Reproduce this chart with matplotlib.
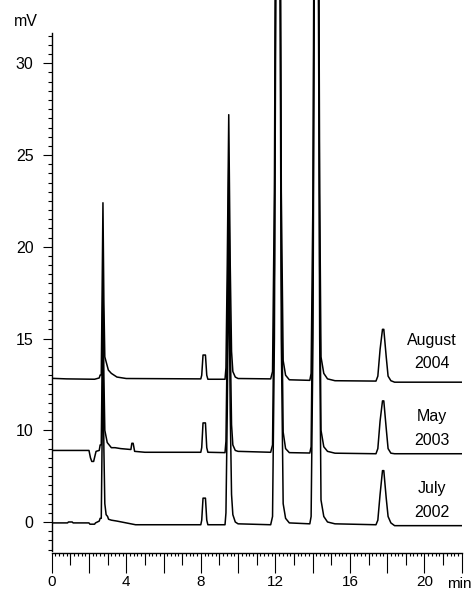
import matplotlib
matplotlib.use("Agg")
import matplotlib.pyplot as plt
from matplotlib.ticker import FixedLocator, FixedFormatter

plt.rcParams['font.family'] = ['Liberation Sans', 'DejaVu Sans']

# ---- data (time in min, signal in axis units; labelled ticks below) ----
july_t = [0.0, 0.85, 0.9, 1.1, 1.15, 2.0, 2.05, 2.3, 2.35, 2.55, 2.6, 2.66, 2.7, 2.75, 2.8, 2.85,
          2.92, 3.0, 3.05, 3.2, 3.5, 4.0, 4.5, 8.0, 8.05, 8.12, 8.25, 8.32, 8.38, 9.3, 9.35, 9.42,
          9.5, 9.58, 9.65, 9.72, 9.85, 10.0, 11.75, 11.85, 11.95, 12.15, 12.32, 12.42, 12.55, 12.75,
          13.85, 13.92, 14.02, 14.2, 14.38, 14.45, 14.6, 14.8, 15.2, 17.4, 17.5, 17.62, 17.75, 17.82,
          17.95, 18.05, 18.2, 18.4, 22.0]
july_v = [-0.05, -0.05, 0.0, 0.0, -0.05, -0.05, -0.12, -0.12, -0.05, 0.05, 0.2, 0.2, 4.0, 9.6, 4.0, 1.0,
          0.4, 0.3, 0.15, 0.1, 0.05, -0.05, -0.15, -0.15, 0.1, 1.3, 1.3, 0.1, -0.15, -0.15, 0.5, 6.0,
          14.9, 6.0, 1.5, 0.4, 0.0, -0.1, -0.15, 0.3, 10.0, 60.0, 10.0, 1.0, 0.2, -0.05,
          -0.1, 0.3, 10.0, 60.0, 10.0, 1.2, 0.3, 0.0, -0.1, -0.15, 0.1, 1.5, 2.8, 2.8,
          1.3, 0.3, -0.05, -0.2, -0.2]

may_t = [0.0, 2.0, 2.08, 2.15, 2.25, 2.32, 2.38, 2.55, 2.6, 2.66, 2.7, 2.75, 2.8, 2.85, 2.98, 3.2,
         3.4, 3.7, 4.25, 4.3, 4.37, 4.45, 5.0, 8.0, 8.05, 8.12, 8.25, 8.32, 8.38, 9.3, 9.35, 9.42,
         9.5, 9.58, 9.65, 9.72, 9.85, 10.0, 11.75, 11.85, 11.95, 12.15, 12.32, 12.42, 12.55, 12.75,
         13.85, 13.92, 14.02, 14.2, 14.38, 14.45, 14.6, 14.8, 15.2, 17.4, 17.5, 17.62, 17.75, 17.82,
         17.95, 18.05, 18.2, 18.4, 22.0]
may_v = [3.9, 3.9, 3.5, 3.3, 3.3, 3.6, 3.85, 3.9, 4.2, 4.2, 8.0, 13.5, 8.0, 5.0, 4.33, 4.05,
         4.05, 4.0, 3.95, 4.29, 4.29, 3.85, 3.8, 3.8, 4.05, 5.4, 5.4, 4.05, 3.8, 3.78, 4.4, 10.0,
         19.3, 10.0, 5.3, 4.2, 3.9, 3.85, 3.8, 4.2, 14.0, 64.0, 14.0, 4.9, 4.0, 3.78,
         3.76, 4.1, 14.0, 64.0, 14.0, 5.0, 4.1, 3.85, 3.75, 3.72, 4.0, 5.5, 6.6, 6.6,
         5.1, 4.0, 3.75, 3.72, 3.72]

aug_t = [0.0, 0.8, 2.3, 2.55, 2.6, 2.66, 2.7, 2.75, 2.8, 2.85, 3.04, 3.2, 3.5, 4.0, 8.0, 8.05,
         8.12, 8.25, 8.32, 8.38, 9.3, 9.35, 9.42, 9.5, 9.58, 9.65, 9.72, 9.85, 10.0, 11.75, 11.85,
         11.95, 12.15, 12.32, 12.42, 12.55, 12.75, 13.85, 13.92, 14.02, 14.2, 14.38, 14.45, 14.6,
         14.8, 15.2, 17.4, 17.5, 17.62, 17.75, 17.82, 17.95, 18.05, 18.2, 18.4, 22.0]
aug_v = [7.83, 7.8, 7.78, 7.85, 8.01, 8.01, 12.0, 17.4, 12.0, 9.0, 8.28, 8.1, 7.9, 7.82, 7.8, 8.0,
         9.1, 9.1, 8.0, 7.78, 7.78, 8.4, 14.0, 22.2, 14.0, 9.3, 8.2, 7.9, 7.82, 7.8, 8.2,
         18.0, 68.0, 18.0, 8.8, 8.0, 7.75, 7.72, 8.1, 18.0, 68.0, 18.0, 9.0, 8.1, 7.8, 7.7,
         7.68, 7.95, 9.4, 10.5, 10.5, 9.0, 7.95, 7.7, 7.62, 7.62]

y_tick_pos = [0, 5, 10, 15, 20, 25]
y_tick_lab = ['0', '10', '15', '20', '25', '30']
x_tick_lab_pos = [0, 4, 8, 12, 16, 20]
labels = [("August", "2004"), ("May", "2003"), ("July", "2002")]
label_y = [(9.65, 8.37), (5.5, 4.2), (1.58, 0.27)]

# ---- figure ----
W, H = 475, 594
fig = plt.figure(figsize=(W / 100, H / 100), dpi=100)
ax = fig.add_axes([51.7 / W, (H - 553) / H, 410 / W, 553 / H])
ax.set_xlim(0, 22)
ax.set_ylim(-1.69, 28.45)

for t, v in [(july_t, july_v), (may_t, may_v), (aug_t, aug_v)]:
    ax.plot(t, v, color='black', lw=1.1)

for sp in ['top', 'right']:
    ax.spines[sp].set_visible(False)
ax.spines['left'].set_bounds(-1.6, 26.65)
ax.spines['left'].set_linewidth(1.0)
ax.spines['bottom'].set_linewidth(1.0)

fs = 11.5
# y ticks
ax.yaxis.set_major_locator(FixedLocator(y_tick_pos))
ax.yaxis.set_major_formatter(FixedFormatter(y_tick_lab))
ax.yaxis.set_minor_locator(FixedLocator([i * 0.5 for i in range(-3, 54)]))
ax.tick_params(axis='y', which='major', length=6.5, width=0.8, pad=6.5, labelsize=fs)
ax.tick_params(axis='y', which='minor', length=3.2, width=0.8)

# x ticks
major_x = list(range(0, 23, 2))
ax.xaxis.set_major_locator(FixedLocator(major_x))
ax.xaxis.set_major_formatter(FixedFormatter([str(v) if v in x_tick_lab_pos else '' for v in major_x]))
ax.xaxis.set_minor_locator(FixedLocator([i * 0.2 for i in range(0, 111)]))
ax.tick_params(axis='x', which='major', length=14.4, width=0.8, pad=1.5, labelsize=11)
ax.tick_params(axis='x', which='minor', length=2.4, width=0.8)

sec = ax.secondary_xaxis('bottom')
sec.set_xticks(list(range(1, 22, 2)))
sec.tick_params(length=8.4, width=0.8, labelbottom=False)
sec.spines['bottom'].set_visible(False)

fig.text(25.8 / W, 1 - 22 / H, "mV", ha='center', va='center', fontsize=fs)
fig.text(459 / W, 1 - 584 / H, "min", ha='center', va='center', fontsize=11)

for (l1, l2), (y1, y2) in zip(labels, label_y):
    ax.text(20.4, y1, l1, ha='center', va='baseline', fontsize=fs)
    ax.text(20.4, y2, l2, ha='center', va='baseline', fontsize=fs)

fig.savefig("out.png", dpi=100)
